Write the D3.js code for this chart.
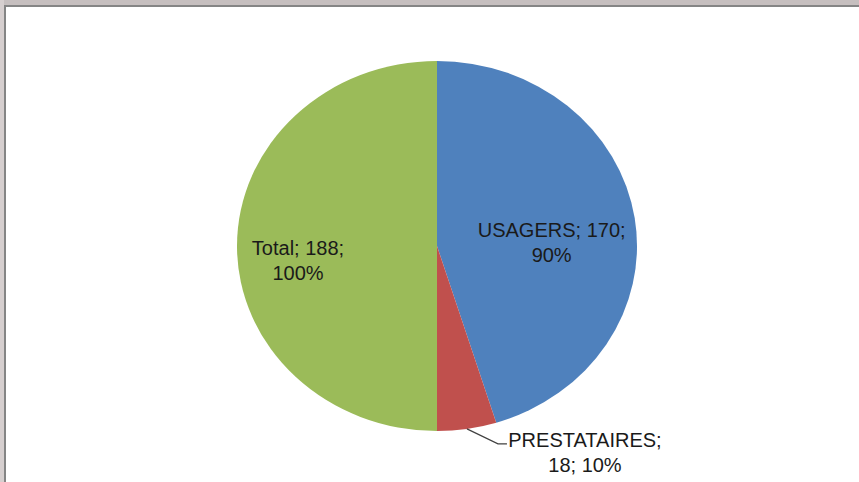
<!DOCTYPE html>
<html>
<head>
<meta charset="utf-8">
<script src="https://cdn.jsdelivr.net/npm/d3@7"></script>
<style>
  html, body { margin: 0; padding: 0; background: #fff; }
  svg { display: block; }
  text { font-family: "Liberation Sans", Arial, sans-serif; fill: #1a1a1a; }
</style>
</head>
<body>
<div id="chart-area"></div>
<script>

// Data
let categories = ["USAGERS", "PRESTATAIRES", "Total"];
let values = [170, 18, 188];
let percents = ["90%", "10%", "100%"];
let colors = ["#4F81BD", "#C0504D", "#9BBB59"];

let W = 859, H = 482;

let svg = d3.select("#chart-area").append("svg")
    .attr("width", W)
    .attr("height", H);

// window frame (grey strip + dark border on top and left)
svg.append("rect").attr("x", 0).attr("y", 0).attr("width", W).attr("height", 5).attr("fill", "#c6bfbf");
svg.append("rect").attr("x", 0).attr("y", 0).attr("width", 4).attr("height", H).attr("fill", "#d6cfcf");
svg.append("rect").attr("x", 4).attr("y", 5).attr("width", W - 4).attr("height", 2).attr("fill", "#858585");
svg.append("rect").attr("x", 4).attr("y", 5).attr("width", 2).attr("height", H - 5).attr("fill", "#858585");

// pie is drawn as a circle then stretched horizontally (as in the picture)
let cx = 437, cy = 246;
let r = 185, sx = 200 / 185;

let pie = d3.pie().sort(null).value(d => d.value);
let data = categories.map((c, i) => ({cat: c, value: values[i], pct: percents[i], color: colors[i]}));
let arcs = pie(data);

let arc = d3.arc().innerRadius(0).outerRadius(r);

let g = svg.append("g")
    .attr("transform", "translate(" + cx + "," + cy + ")");

g.append("g")
    .attr("transform", "scale(" + sx + ",1)")
  .selectAll("path")
  .data(arcs)
  .enter()
  .append("path")
    .attr("d", arc)
    .attr("fill", d => d.data.color);

// label placement: centroid on a given radius + nudge
let labelLayout = {
  "USAGERS":      {k: 0.6, dx: -4, y: -9, outside: false},
  "PRESTATAIRES": {k: 1.0, dx: 0, y: 0, outside: true},
  "Total":        {k: 0.6, dx: -19, y: 9, outside: false}
};

let lineH = 25;
let fontSize = 20;

arcs.forEach(function(d) {
  let lay = labelLayout[d.data.cat];
  let mid = (d.startAngle + d.endAngle) / 2;
  let lines, tx, ty;
  if (!lay.outside) {
    tx = Math.sin(mid) * r * lay.k * sx + lay.dx;
    ty = lay.y;
    lines = [d.data.cat + "; " + d.data.value + ";", d.data.pct];
  } else {
    // leader line from the arc edge
    let p0 = [Math.sin(mid) * r * sx, -Math.cos(mid) * r];
    let p1 = [p0[0] + 31, p0[1] + 15];
    let p2 = [p1[0] + 9, p1[1]];
    g.append("polyline")
      .attr("points", [p0, p1, p2].map(p => p.join(",")).join(" "))
      .attr("fill", "none")
      .attr("stroke", "#404040")
      .attr("stroke-width", 1.2);
    tx = p2[0] + 78;
    ty = p2[1] + 3;
    lines = [d.data.cat + ";", d.data.value + "; " + d.data.pct];
  }
  let t = g.append("text")
    .attr("text-anchor", "middle")
    .attr("font-size", fontSize);
  lines.forEach(function(s, i) {
    t.append("tspan")
      .attr("x", tx)
      .attr("y", ty + i * lineH)
      .text(s);
  });
});

</script>
</body>
</html>
